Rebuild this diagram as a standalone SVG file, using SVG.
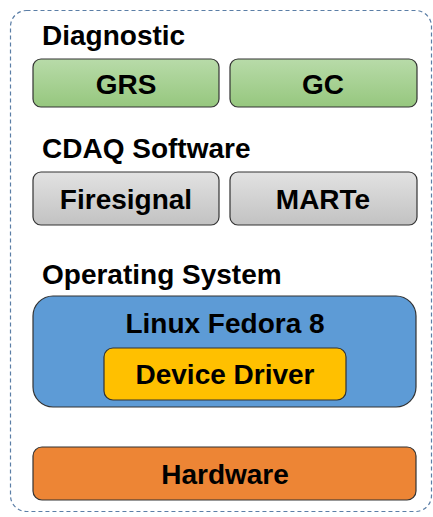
<svg xmlns="http://www.w3.org/2000/svg" width="433" height="517" viewBox="0 0 433 517">
<defs>
<linearGradient id="gGreen" x1="0" y1="0" x2="0" y2="1"><stop offset="0" stop-color="#b8dba9"/><stop offset="1" stop-color="#96c77e"/></linearGradient>
<linearGradient id="gGray" x1="0" y1="0" x2="0" y2="1"><stop offset="0" stop-color="#e2e2e2"/><stop offset="1" stop-color="#c2c2c2"/></linearGradient>
</defs>
<style>
.lbl{font-family:"Liberation Sans",Arial,sans-serif;font-weight:bold;font-size:28px;fill:#000}
.c{text-anchor:middle}
.box{stroke:#333;stroke-width:1.2}
</style>
<rect width="433" height="517" fill="#fff"/>
<rect x="10.5" y="10.5" width="421" height="501" rx="16" fill="none" stroke="#5b7ea6" stroke-width="1.2" stroke-dasharray="4,3"/>
<text class="lbl" x="42" y="45">Diagnostic</text>
<text class="lbl" x="42" y="158">CDAQ Software</text>
<text class="lbl" x="42" y="284">Operating System</text>
<g id="grs"><rect class="box" x="33" y="59" width="186" height="48" rx="8" fill="url(#gGreen)"/><text class="lbl c" x="126" y="94">GRS</text></g>
<g id="gc"><rect class="box" x="230" y="59" width="187" height="48" rx="8" fill="url(#gGreen)"/><text class="lbl c" x="323" y="94">GC</text></g>
<g id="firesignal"><rect class="box" x="33" y="172" width="186" height="53" rx="8" fill="url(#gGray)"/><text class="lbl c" x="126" y="209">Firesignal</text></g>
<g id="marte"><rect class="box" x="230" y="172" width="187" height="53" rx="8" fill="url(#gGray)"/><text class="lbl c" x="323" y="209">MARTe</text></g>
<g id="linux"><rect class="box" x="33" y="296" width="383" height="111" rx="20" fill="#5d9bd6"/><text class="lbl c" x="225" y="333">Linux Fedora 8</text></g>
<g id="driver"><rect class="box" x="104" y="348" width="242" height="52" rx="9" fill="#ffc000"/><text class="lbl c" x="225" y="384">Device Driver</text></g>
<g id="hardware"><rect class="box" x="33" y="447" width="383" height="53" rx="9" fill="#ed8535"/><text class="lbl c" x="225" y="484">Hardware</text></g>
<g id="connectors"></g>
</svg>
